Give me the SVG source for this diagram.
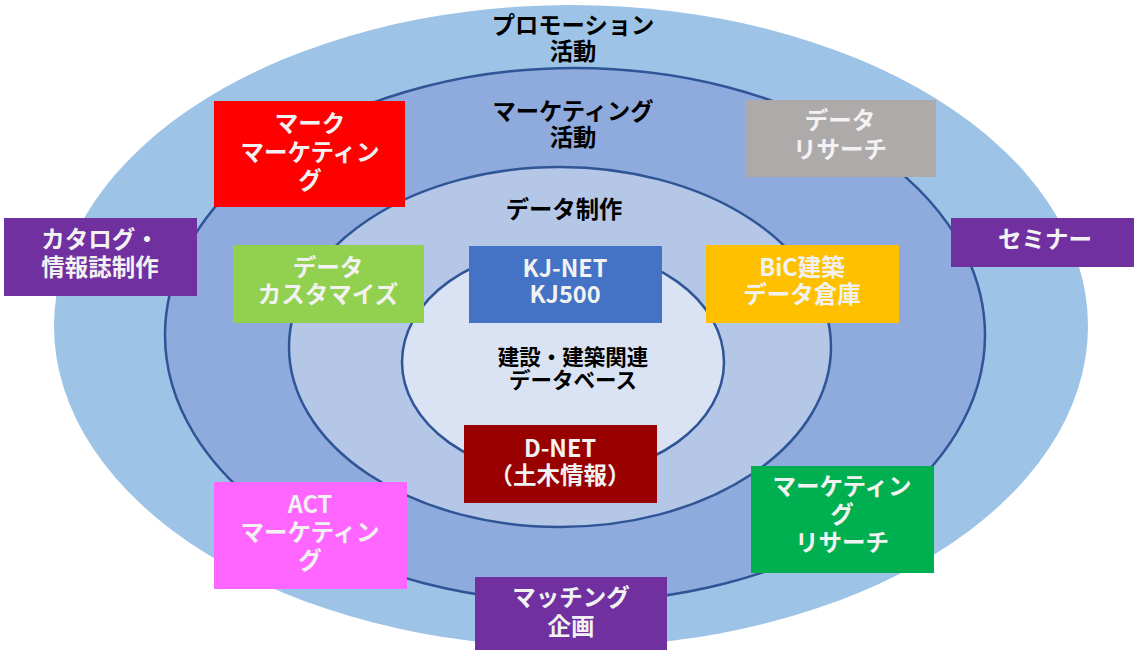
<svg xmlns="http://www.w3.org/2000/svg" width="1134" height="650" viewBox="0 0 1134 650">
<style>
.ring{stroke:#2F5597;stroke-width:2.5}
text{font-family:"Noto Sans CJK JP","Noto Sans",sans-serif;font-weight:bold;text-anchor:middle}
.h{font-size:23.3px;fill:#000}
.h2{font-size:21.5px;fill:#000}
.b{font-size:23.5px;fill:#F2F2F2}
</style>
<rect width="1134" height="650" fill="#FFFFFF"/>
<g id="rings">
<ellipse id="ring-promotion" cx="571" cy="326" rx="517" ry="321" fill="#9DC3E6"/>
<ellipse id="ring-marketing" class="ring" cx="575" cy="335" rx="410" ry="267" fill="#8FAADC"/>
<ellipse id="ring-data" class="ring" cx="560" cy="347" rx="271" ry="180" fill="#B4C7E7"/>
<ellipse id="ring-db" class="ring" cx="563" cy="362" rx="161" ry="114" fill="#DAE3F3"/>
</g>
<g id="connectors"></g>
<g id="labels">
<text class="h" x="573" y="34">プロモーション</text>
<text class="h" x="573" y="60">活動</text>
<text class="h" x="573" y="120">マーケティング</text>
<text class="h" x="573" y="146">活動</text>
<text class="h" x="564" y="218">データ制作</text>
<text class="h2" x="573" y="365">建設・建築関連</text>
<text class="h2" x="573" y="388">データベース</text>
</g>
<g id="node-mark">
<rect x="214" y="101" width="191" height="106" fill="#FF0000"/>
<text class="b" x="310" y="132">マーク</text>
<text class="b" x="310" y="161">マーケティン</text>
<text class="b" x="310" y="189">グ</text>
</g>
<g id="node-research">
<rect x="745" y="100" width="191" height="77" fill="#AEAAAA"/>
<text class="b" x="840" y="129">データ</text>
<text class="b" x="840" y="158">リサーチ</text>
</g>
<g id="node-catalog">
<rect x="4" y="218" width="193" height="78" fill="#7030A0"/>
<text class="b" x="100" y="248">カタログ・</text>
<text class="b" x="100" y="276">情報誌制作</text>
</g>
<g id="node-seminar">
<rect x="951" y="218" width="183" height="49" fill="#7030A0"/>
<text class="b" x="1045" y="248">セミナー</text>
</g>
<g id="node-customize">
<rect x="233" y="245" width="191" height="78" fill="#92D050"/>
<text class="b" x="328" y="276">データ</text>
<text class="b" x="328" y="303">カスタマイズ</text>
</g>
<g id="node-kjnet">
<rect x="469" y="246" width="193" height="77" fill="#4472C4"/>
<text class="b" x="565" y="277">KJ-NET</text>
<text class="b" x="565" y="303">KJ500</text>
</g>
<g id="node-bic">
<rect x="706" y="245" width="193" height="78" fill="#FFC000"/>
<text class="b" x="802" y="276">BiC建築</text>
<text class="b" x="802" y="303">データ倉庫</text>
</g>
<g id="node-dnet">
<rect x="464" y="425" width="193" height="78" fill="#990000"/>
<text class="b" x="560" y="457">D-NET</text>
<text class="b" x="560" y="484">（土木情報）</text>
</g>
<g id="node-act">
<rect x="214" y="482" width="193" height="107" fill="#FF66FF"/>
<text class="b" x="310" y="513">ACT</text>
<text class="b" x="310" y="541">マーケティン</text>
<text class="b" x="310" y="569">グ</text>
</g>
<g id="node-mresearch">
<rect x="751" y="466" width="183" height="107" fill="#00B050"/>
<text class="b" x="842" y="495">マーケティン</text>
<text class="b" x="842" y="523">グ</text>
<text class="b" x="842" y="551">リサーチ</text>
</g>
<g id="node-matching">
<rect x="475" y="577" width="192" height="73" fill="#7030A0"/>
<text class="b" x="571" y="606">マッチング</text>
<text class="b" x="571" y="635">企画</text>
</g>
</svg>
